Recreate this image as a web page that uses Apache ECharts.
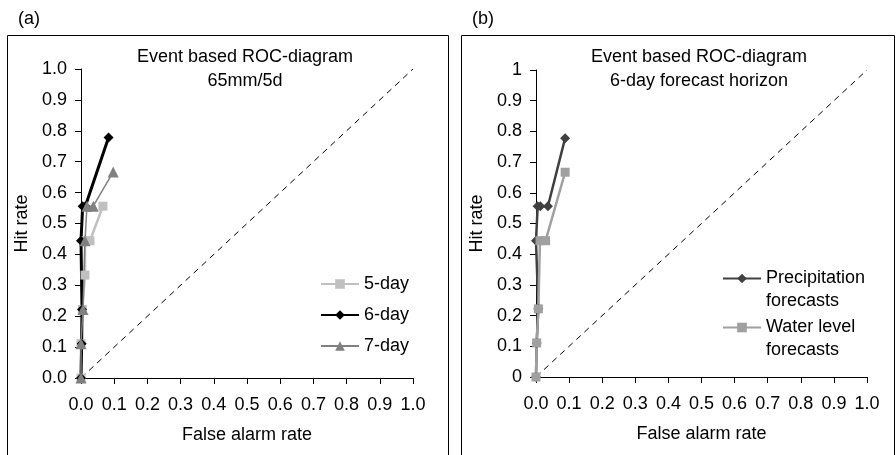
<!DOCTYPE html>
<html>
<head>
<meta charset="utf-8">
<script src="https://cdn.jsdelivr.net/npm/echarts@6/dist/echarts.min.js"></script>
<style>
  html, body { margin: 0; padding: 0; background: #fff; }
  #main { width: 896px; height: 455px; }
</style>
</head>
<body>
<div id="main"></div>
<script>
// ticks shared by both panels
var xTicks = ['0.0', '0.1', '0.2', '0.3', '0.4', '0.5', '0.6', '0.7', '0.8', '0.9', '1.0'];
var yTicksA = ['0.0', '0.1', '0.2', '0.3', '0.4', '0.5', '0.6', '0.7', '0.8', '0.9', '1.0'];
var yTicksB = ['0', '0.1', '0.2', '0.3', '0.4', '0.5', '0.6', '0.7', '0.8', '0.9', '1'];

// panel (a): [false alarm rate, hit rate]
var fiveDay = [[0, 0], [0, 0.111], [0.004, 0.222], [0.012, 0.333], [0.012, 0.444], [0.027, 0.444], [0.066, 0.556]];
var sixDay = [[0, 0], [0.002, 0.111], [0.003, 0.222], [0, 0.444], [0.005, 0.556], [0.013, 0.556], [0.083, 0.778]];
var sevenDay = [[0, 0], [0, 0.111], [0.006, 0.222], [0.012, 0.444], [0.018, 0.556], [0.037, 0.556], [0.097, 0.667]];

// panel (b)
var precip = [[0, 0], [0.002, 0.111], [0.007, 0.222], [0, 0.444], [0.005, 0.556], [0.013, 0.556], [0.036, 0.556], [0.088, 0.778]];
var water = [[0, 0], [0.002, 0.111], [0.007, 0.222], [0.012, 0.444], [0.029, 0.444], [0.088, 0.667]];

var diagonal = [[0, 0], [1, 1]];

var font = 'Liberation Sans, Arial, sans-serif';
var fs = 18;

function xAxisFor(idx) {
  return {
    type: 'value', gridIndex: idx, min: 0, max: 1, interval: 0.1,
    name: 'False alarm rate', nameLocation: 'middle', nameGap: 48,
    nameTextStyle: { color: '#000', fontSize: fs, fontFamily: font },
    axisLine: { lineStyle: { color: '#000', width: 1 } },
    axisTick: { show: true, length: 6, lineStyle: { color: '#000' } },
    axisLabel: {
      color: '#000', fontSize: fs, fontFamily: font, margin: 18,
      formatter: function (v) { return xTicks[Math.round(v * 10)]; }
    },
    splitLine: { show: false }
  };
}

function yAxisFor(idx, labels) {
  return {
    type: 'value', gridIndex: idx, min: 0, max: 1, interval: 0.1,
    name: 'Hit rate', nameLocation: 'middle', nameGap: 50,
    nameTextStyle: { color: '#000', fontSize: fs, fontFamily: font },
    axisLine: { show: true, lineStyle: { color: '#000', width: 1 } },
    axisTick: { show: true, length: 6, lineStyle: { color: '#000' } },
    axisLabel: {
      color: '#000', fontSize: fs, fontFamily: font, margin: 14,
      formatter: function (v) { return labels[Math.round(v * 10)]; }
    },
    splitLine: { show: false }
  };
}

function dashed(idx) {
  return {
    type: 'line', xAxisIndex: idx, yAxisIndex: idx, data: diagonal,
    symbol: 'none', silent: true,
    lineStyle: { color: '#000', width: 1, type: [6, 5] }
  };
}

// blank first line so the legend icon sits beside the first text line
function twoLineLegend(name) {
  return ' \n' + name;
}

var myChart = echarts.init(document.getElementById('main'));
var option = {
  animation: false,
  backgroundColor: '#fff',
  textStyle: { fontFamily: font },
  title: [
    {
      text: 'Event based ROC-diagram\n65mm/5d', left: 240, top: 40, textAlign: 'center',
      textStyle: { fontSize: fs, fontWeight: 'normal', color: '#000', lineHeight: 24, fontFamily: font }
    },
    {
      text: 'Event based ROC-diagram\n6-day forecast horizon', left: 694, top: 40, textAlign: 'center',
      textStyle: { fontSize: fs, fontWeight: 'normal', color: '#000', lineHeight: 24, fontFamily: font }
    },
    {
      text: '(a)', left: 13, top: 5,
      textStyle: { fontSize: fs, fontWeight: 'normal', color: '#000', fontFamily: font }
    },
    {
      text: '(b)', left: 467, top: 5,
      textStyle: { fontSize: fs, fontWeight: 'normal', color: '#000', fontFamily: font }
    }
  ],
  graphic: [
    { type: 'rect', shape: { x: 7.5, y: 35.5, width: 441, height: 430 }, style: { fill: 'none', stroke: '#000', lineWidth: 1 } },
    { type: 'rect', shape: { x: 461.5, y: 35.5, width: 433, height: 430 }, style: { fill: 'none', stroke: '#000', lineWidth: 1 } }
  ],
  legend: [
    {
      orient: 'vertical', left: 320, top: 274, padding: 0, itemGap: 11,
      itemWidth: 38, itemHeight: 12,
      textStyle: { fontSize: fs, color: '#000', fontFamily: font, lineHeight: 20 },
      data: ['5-day', '6-day', '7-day']
    },
    {
      orient: 'vertical', left: 722, top: 244, padding: 0,
      itemWidth: 38, itemHeight: 12, formatter: twoLineLegend,
      textStyle: { fontSize: fs, color: '#000', fontFamily: font, lineHeight: 23 },
      data: ['Precipitation\nforecasts']
    },
    {
      orient: 'vertical', left: 722, top: 293, padding: 0,
      itemWidth: 38, itemHeight: 12, formatter: twoLineLegend,
      textStyle: { fontSize: fs, color: '#000', fontFamily: font, lineHeight: 23 },
      data: ['Water level\nforecasts']
    }
  ],
  grid: [
    { left: 81, top: 69, width: 332, height: 309 },
    { left: 536, top: 70, width: 331, height: 307 }
  ],
  xAxis: [xAxisFor(0), xAxisFor(1)],
  yAxis: [yAxisFor(0, yTicksA), yAxisFor(1, yTicksB)],
  series: [
    dashed(0),
    dashed(1),
    {
      name: '5-day', type: 'line', xAxisIndex: 0, yAxisIndex: 0, data: fiveDay,
      symbol: 'rect', symbolSize: 9, color: '#c0c0c0',
      lineStyle: { color: '#c0c0c0', width: 2.5 }, itemStyle: { color: '#c0c0c0' }
    },
    {
      name: '6-day', type: 'line', xAxisIndex: 0, yAxisIndex: 0, data: sixDay,
      symbol: 'diamond', symbolSize: 10, color: '#000',
      lineStyle: { color: '#000', width: 3 }, itemStyle: { color: '#000' }
    },
    {
      name: '7-day', type: 'line', xAxisIndex: 0, yAxisIndex: 0, data: sevenDay,
      symbol: 'triangle', symbolSize: 11, color: '#808080',
      lineStyle: { color: '#808080', width: 1.5 }, itemStyle: { color: '#808080' }
    },
    {
      name: 'Precipitation\nforecasts', type: 'line', xAxisIndex: 1, yAxisIndex: 1, data: precip,
      symbol: 'diamond', symbolSize: 10, color: '#404040',
      lineStyle: { color: '#404040', width: 2.5 }, itemStyle: { color: '#404040' }
    },
    {
      name: 'Water level\nforecasts', type: 'line', xAxisIndex: 1, yAxisIndex: 1, data: water,
      symbol: 'rect', symbolSize: 9, color: '#a0a0a0',
      lineStyle: { color: '#a0a0a0', width: 2.5 }, itemStyle: { color: '#a0a0a0' }
    }
  ]
};
myChart.setOption(option);
</script>
</body>
</html>
